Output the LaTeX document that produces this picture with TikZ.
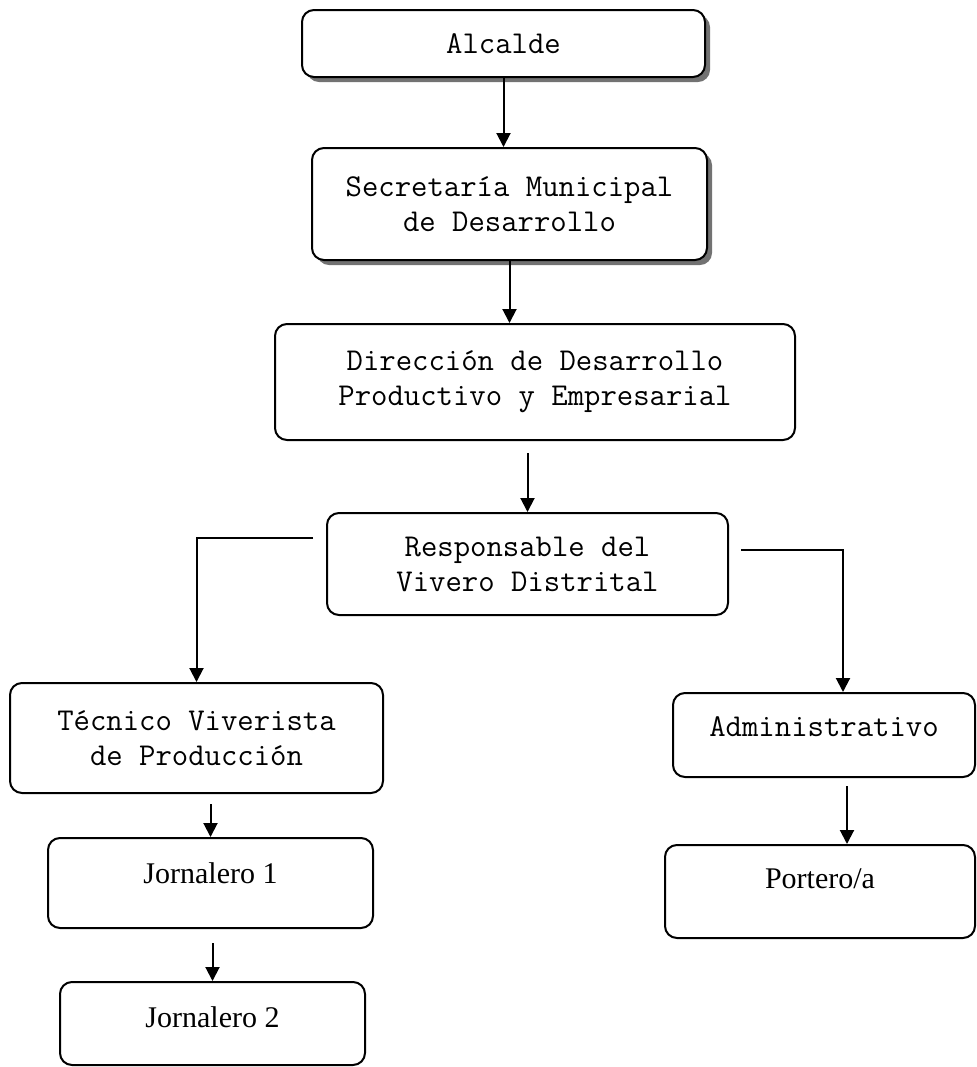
\documentclass[tikz,border=0pt]{standalone}
\usepackage{fontspec}
\setmainfont{Liberation Serif}
\usetikzlibrary{arrows.meta,shadows}

\tikzstyle{orgbox} = [draw=black, fill=white, line width=1pt, rounded corners=6pt, align=center]
\tikzstyle{mono}   = [orgbox, font=\ttfamily\fontsize{15.9}{17.5}\selectfont]
\tikzstyle{serif}  = [orgbox, font=\fontsize{15}{18}\selectfont]
\tikzstyle{shade}  = [drop shadow={shadow xshift=2.5pt, shadow yshift=-2.5pt, fill=black!65, opacity=0.85}]
\tikzstyle{arr}    = [-{Triangle[width=7pt,length=7pt]}, line width=1pt]
\tikzset{boxsize/.style 2 args={minimum width=#1*0.5pt, minimum height=#2*0.5pt}}

\begin{document}
\begin{tikzpicture}[x=0.5pt, y=-0.5pt]
    \useasboundingbox (0,0) rectangle (977,1067);
    % boxes
    \node[mono, shade, boxsize={403}{67}]  (alcalde)     at (503.5,43.5) {Alcalde};
    \node[mono, shade, boxsize={395}{112}] (secretaria)  at (509.5,204)  {Secretaría Municipal\\de Desarrollo};
    \node[mono, boxsize={520}{116}]        (direccion)   at (535,382)    {Dirección de Desarrollo\\Productivo y Empresarial};
    \node[mono, boxsize={401}{102}]        (responsable) at (527.5,564)  {Responsable del\\Vivero Distrital};
    \node[mono, boxsize={373}{110}]        (tecnico)     at (196.5,738)  {Técnico Viverista\\de Producción};
    \node[mono, boxsize={302}{84}, text depth=8pt]   (admin)   at (824,735)      {Administrativo};
    \node[serif, boxsize={325}{90}, text depth=10pt] (jorn1)   at (210.5,883)    {Jornalero 1};
    \node[serif, boxsize={310}{93}, text depth=13pt] (portero) at (820,891.5)    {Portero/a};
    \node[serif, boxsize={305}{83}, text depth=6pt]  (jorn2)   at (212.5,1023.5) {Jornalero 2};
    % connectors
    \draw[arr] (alcalde.south) -- (alcalde.south |- secretaria.north);
    \draw[arr] (secretaria.south) -- (secretaria.south |- direccion.north);
    \draw[arr, shorten <=6pt] (direccion.south -| responsable.north) -- (responsable.north);
    \draw[arr, shorten <=6.5pt] ([yshift=13pt]responsable.west) -| (tecnico.north);
    \draw[arr, shorten <=6pt] ([yshift=7pt]responsable.east) -| ([xshift=9.5pt]admin.north);
    \draw[arr, shorten <=4pt] ([xshift=11.5pt]admin.south) -- ([xshift=11.5pt]admin.south |- portero.north);
    \draw[arr, shorten <=5pt] (tecnico.south -| jorn1.north) -- (jorn1.north);
    \draw[arr, shorten <=7pt] (jorn1.south -| jorn2.north) -- (jorn2.north);
\end{tikzpicture}
\end{document}
